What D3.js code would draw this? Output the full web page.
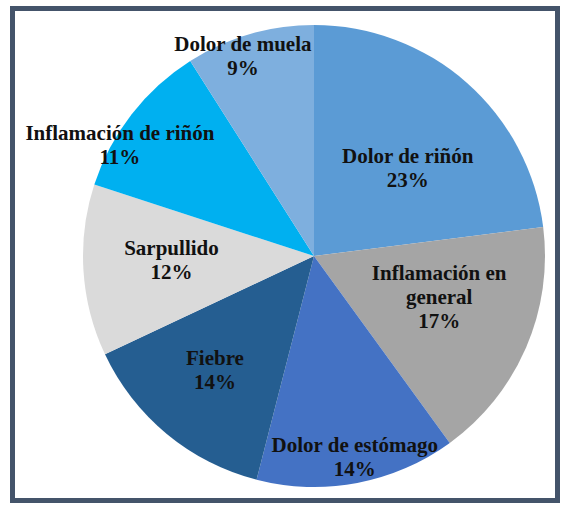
<!DOCTYPE html>
<html>
<head>
<meta charset="utf-8">
<script src="https://cdn.jsdelivr.net/npm/d3@7"></script>
<style>
  html, body { margin: 0; padding: 0; background: #ffffff; }
  svg { display: block; }
  .lbl { font-family: "Liberation Serif", "Times New Roman", Tinos, "DejaVu Serif", serif; font-weight: bold; }
</style>
</head>
<body>
<svg id="chart" width="573" height="506"></svg>
<script>
// ---- data ----
const categories = ["Dolor de riñón", "Inflamación en general", "Dolor de estómago", "Fiebre", "Sarpullido", "Inflamación de riñón", "Dolor de muela"];
const values = [23, 17, 14, 14, 12, 11, 9];
const labelLines = [["Dolor de riñón"], ["Inflamación en", "general"], ["Dolor de estómago"], ["Fiebre"], ["Sarpullido"], ["Inflamación de riñón"], ["Dolor de muela"]];
const colors = ["#5b9bd5", "#a5a5a5", "#4472c4", "#255e91", "#dadada", "#00b0f0", "#7eafde"];

// ---- layout (label placement: radius and angular nudge in degrees) ----
const labelRadius = [124, 134, 212, 156, 143, 220, 206];
const labelAngleNudge = [7.7, -2.5, -0.3, -0.2, -1, -9.7, -4];

const svg = d3.select("#chart");
const cx = 314, cy = 256, R = 231;

svg.append("rect")
  .attr("x", 12.5).attr("y", 8.5)
  .attr("width", 545).attr("height", 492)
  .attr("fill", "#ffffff")
  .attr("stroke", "#44546a")
  .attr("stroke-width", 5);

const data = categories.map((c, i) => ({ cat: c, value: values[i], i }));
const pie = d3.pie().value(d => d.value).sort(null);
const arcs = pie(data);
const arc = d3.arc().innerRadius(0).outerRadius(R);

const g = svg.append("g").attr("transform", `translate(${cx},${cy})`);

g.selectAll("path.slice")
  .data(arcs)
  .join("path")
  .attr("class", "slice")
  .attr("d", arc)
  .attr("fill", d => colors[d.data.i]);

const total = d3.sum(values);
const fs = 21, lh = 24;

arcs.forEach(d => {
  const i = d.data.i;
  const mid = (d.startAngle + d.endAngle) / 2 + labelAngleNudge[i] * Math.PI / 180;
  const r = labelRadius[i];
  const x = r * Math.sin(mid);
  const y = -r * Math.cos(mid);
  const lines = labelLines[i].concat([Math.round(d.data.value / total * 100) + "%"]);
  const n = lines.length;
  const t = g.append("text")
    .attr("class", "lbl")
    .attr("text-anchor", "middle")
    .style("font-size", fs + "px")
    .attr("fill", "#111111");
  lines.forEach((ln, k) => {
    t.append("tspan")
      .attr("x", x)
      .attr("y", y - (n - 1) * lh / 2 + k * lh)
      .text(ln);
  });
});
</script>
</body>
</html>
